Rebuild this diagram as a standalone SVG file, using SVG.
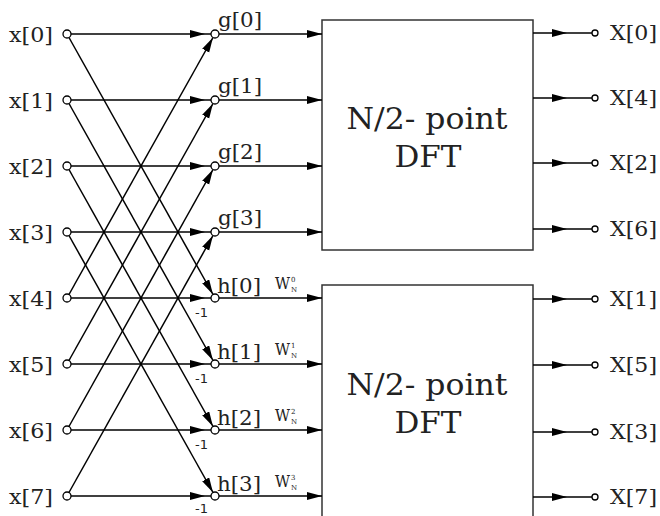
<svg xmlns="http://www.w3.org/2000/svg" width="660" height="516" viewBox="0 0 660 516">
<defs>
<marker id="arr" markerUnits="userSpaceOnUse" markerWidth="17" markerHeight="9" refX="15" refY="4" orient="auto">
<path d="M0,0 L15,4 L0,8 Z" fill="#000"/>
</marker>
<style>
.ln{stroke:#000;stroke-width:1.5;fill:none}
.a{marker-end:url(#arr)}
.m{marker-mid:url(#arr)}
.nd{fill:#fff;stroke:#000;stroke-width:1.3}
.lb{font-family:"DejaVu Serif",serif;font-size:21px;fill:#222}
.box{fill:#fff;stroke:#333;stroke-width:1.5}
.big{font-family:"DejaVu Serif",serif;font-size:30px;fill:#222;text-anchor:middle}
.neg{font-family:"DejaVu Sans",sans-serif;font-size:13px;fill:#222}
.w{font-family:"DejaVu Serif",serif;font-size:16px;fill:#222}
.ws{font-family:"DejaVu Serif",serif;font-size:7px;fill:#222}
</style>
</defs>
<rect width="660" height="516" fill="#fff"/>

<g id="dft1">
<rect class="box" x="322" y="20" width="211" height="230"/>
<text class="big" x="427" y="129" textLength="161" lengthAdjust="spacingAndGlyphs">N/2- point</text>
<text class="big" x="428" y="167" textLength="67" lengthAdjust="spacingAndGlyphs">DFT</text>
</g>
<g id="dft2">
<rect class="box" x="322" y="285" width="211" height="260"/>
<text class="big" x="427" y="395" textLength="161" lengthAdjust="spacingAndGlyphs">N/2- point</text>
<text class="big" x="428" y="433" textLength="67" lengthAdjust="spacingAndGlyphs">DFT</text>
</g>

<g id="connectors">
<path class="ln m" d="M71 34 L205 34 L211 34"/>
<path class="ln m" d="M71 100 L205 100 L211 100"/>
<path class="ln m" d="M71 166 L205 166 L211 166"/>
<path class="ln m" d="M71 232 L205 232 L211 232"/>
<path class="ln m" d="M71 298 L205 298 L211 298"/>
<path class="ln m" d="M71 364 L205 364 L211 364"/>
<path class="ln m" d="M71 430 L205 430 L211 430"/>
<path class="ln m" d="M71 496 L205 496 L211 496"/>
<line class="ln a" x1="67" y1="34" x2="213" y2="294.5"/>
<line class="ln a" x1="67" y1="100" x2="213" y2="360.5"/>
<line class="ln a" x1="67" y1="166" x2="213" y2="426.5"/>
<line class="ln a" x1="67" y1="232" x2="213" y2="492.5"/>
<line class="ln a" x1="67" y1="298" x2="213" y2="37.5"/>
<line class="ln a" x1="67" y1="364" x2="213" y2="103.5"/>
<line class="ln a" x1="67" y1="430" x2="213" y2="169.5"/>
<line class="ln a" x1="67" y1="496" x2="213" y2="235.5"/>
<line class="ln a" x1="219" y1="34" x2="322" y2="34"/>
<line class="ln a" x1="219" y1="100" x2="322" y2="100"/>
<line class="ln a" x1="219" y1="166" x2="322" y2="166"/>
<line class="ln a" x1="219" y1="232" x2="322" y2="232"/>
<line class="ln a" x1="219" y1="298" x2="322" y2="298"/>
<line class="ln a" x1="219" y1="364" x2="322" y2="364"/>
<line class="ln a" x1="219" y1="430" x2="322" y2="430"/>
<line class="ln a" x1="219" y1="496" x2="322" y2="496"/>
<path class="ln m" d="M533 33 L567 33 L592 33"/>
<path class="ln m" d="M533 98 L567 98 L592 98"/>
<path class="ln m" d="M533 163 L567 163 L592 163"/>
<path class="ln m" d="M533 229 L567 229 L592 229"/>
<path class="ln m" d="M533 299 L567 299 L592 299"/>
<path class="ln m" d="M533 365 L567 365 L592 365"/>
<path class="ln m" d="M533 432 L567 432 L592 432"/>
<path class="ln m" d="M533 497 L567 497 L592 497"/>
</g>

<g id="x0"><circle class="nd" cx="67" cy="34" r="4"/><text class="lb" x="9" y="42" textLength="44" lengthAdjust="spacingAndGlyphs">x[0]</text></g>
<g id="x1"><circle class="nd" cx="67" cy="100" r="4"/><text class="lb" x="9" y="108" textLength="44" lengthAdjust="spacingAndGlyphs">x[1]</text></g>
<g id="x2"><circle class="nd" cx="67" cy="166" r="4"/><text class="lb" x="9" y="174" textLength="44" lengthAdjust="spacingAndGlyphs">x[2]</text></g>
<g id="x3"><circle class="nd" cx="67" cy="232" r="4"/><text class="lb" x="9" y="240" textLength="44" lengthAdjust="spacingAndGlyphs">x[3]</text></g>
<g id="x4"><circle class="nd" cx="67" cy="298" r="4"/><text class="lb" x="9" y="306" textLength="44" lengthAdjust="spacingAndGlyphs">x[4]</text></g>
<g id="x5"><circle class="nd" cx="67" cy="364" r="4"/><text class="lb" x="9" y="372" textLength="44" lengthAdjust="spacingAndGlyphs">x[5]</text></g>
<g id="x6"><circle class="nd" cx="67" cy="430" r="4"/><text class="lb" x="9" y="438" textLength="44" lengthAdjust="spacingAndGlyphs">x[6]</text></g>
<g id="x7"><circle class="nd" cx="67" cy="496" r="4"/><text class="lb" x="9" y="504" textLength="44" lengthAdjust="spacingAndGlyphs">x[7]</text></g>

<g id="g0"><circle class="nd" cx="215" cy="34" r="4"/><text class="lb" x="218" y="27" textLength="44" lengthAdjust="spacingAndGlyphs">g[0]</text></g>
<g id="g1"><circle class="nd" cx="215" cy="100" r="4"/><text class="lb" x="218" y="93" textLength="44" lengthAdjust="spacingAndGlyphs">g[1]</text></g>
<g id="g2"><circle class="nd" cx="215" cy="166" r="4"/><text class="lb" x="218" y="159" textLength="44" lengthAdjust="spacingAndGlyphs">g[2]</text></g>
<g id="g3"><circle class="nd" cx="215" cy="232" r="4"/><text class="lb" x="218" y="225" textLength="44" lengthAdjust="spacingAndGlyphs">g[3]</text></g>

<g id="h0"><circle class="nd" cx="215" cy="298" r="4"/><text class="lb" x="217" y="293" textLength="44" lengthAdjust="spacingAndGlyphs">h[0]</text><text class="neg" x="195" y="317">-1</text>
<text class="w" x="275" y="289" textLength="15" lengthAdjust="spacingAndGlyphs">W</text><text class="ws" x="291" y="282">0</text><text class="ws" x="291" y="292">N</text></g>
<g id="h1"><circle class="nd" cx="215" cy="364" r="4"/><text class="lb" x="217" y="359" textLength="44" lengthAdjust="spacingAndGlyphs">h[1]</text><text class="neg" x="195" y="383">-1</text>
<text class="w" x="275" y="355" textLength="15" lengthAdjust="spacingAndGlyphs">W</text><text class="ws" x="291" y="348">1</text><text class="ws" x="291" y="358">N</text></g>
<g id="h2"><circle class="nd" cx="215" cy="430" r="4"/><text class="lb" x="217" y="425" textLength="44" lengthAdjust="spacingAndGlyphs">h[2]</text><text class="neg" x="195" y="449">-1</text>
<text class="w" x="275" y="421" textLength="15" lengthAdjust="spacingAndGlyphs">W</text><text class="ws" x="291" y="414">2</text><text class="ws" x="291" y="424">N</text></g>
<g id="h3"><circle class="nd" cx="215" cy="496" r="4"/><text class="lb" x="217" y="491" textLength="44" lengthAdjust="spacingAndGlyphs">h[3]</text><text class="neg" x="195" y="513">-1</text>
<text class="w" x="275" y="487" textLength="15" lengthAdjust="spacingAndGlyphs">W</text><text class="ws" x="291" y="480">3</text><text class="ws" x="291" y="490">N</text></g>

<g id="X0"><circle class="nd" cx="595" cy="33" r="3"/><text class="lb" x="610" y="40" textLength="47" lengthAdjust="spacingAndGlyphs">X[0]</text></g>
<g id="X4"><circle class="nd" cx="595" cy="98" r="3"/><text class="lb" x="610" y="105" textLength="47" lengthAdjust="spacingAndGlyphs">X[4]</text></g>
<g id="X2"><circle class="nd" cx="595" cy="163" r="3"/><text class="lb" x="610" y="170" textLength="47" lengthAdjust="spacingAndGlyphs">X[2]</text></g>
<g id="X6"><circle class="nd" cx="595" cy="229" r="3"/><text class="lb" x="610" y="236" textLength="47" lengthAdjust="spacingAndGlyphs">X[6]</text></g>
<g id="X1"><circle class="nd" cx="595" cy="299" r="3"/><text class="lb" x="610" y="306" textLength="47" lengthAdjust="spacingAndGlyphs">X[1]</text></g>
<g id="X5"><circle class="nd" cx="595" cy="365" r="3"/><text class="lb" x="610" y="372" textLength="47" lengthAdjust="spacingAndGlyphs">X[5]</text></g>
<g id="X3"><circle class="nd" cx="595" cy="432" r="3"/><text class="lb" x="610" y="439" textLength="47" lengthAdjust="spacingAndGlyphs">X[3]</text></g>
<g id="X7"><circle class="nd" cx="595" cy="497" r="3"/><text class="lb" x="610" y="504" textLength="47" lengthAdjust="spacingAndGlyphs">X[7]</text></g>
</svg>
